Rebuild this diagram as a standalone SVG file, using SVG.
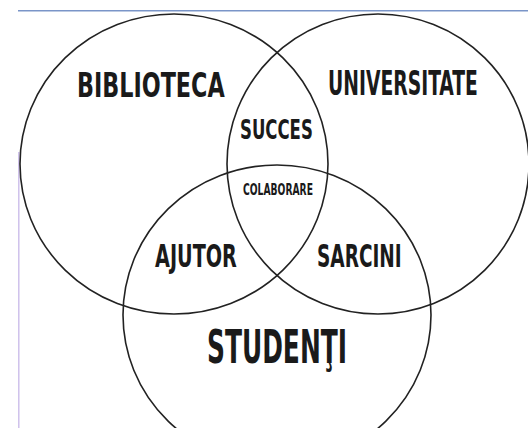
<svg xmlns="http://www.w3.org/2000/svg" width="528" height="428" viewBox="0 0 528 428">
<style>
.c{fill:none;stroke:#222;stroke-width:1.6}
.t{font-family:"DejaVu Sans Condensed","DejaVu Sans",sans-serif;font-stretch:condensed;font-weight:bold;fill:#1a1a1a}
</style>
<rect width="528" height="428" fill="#fff"/>
<line x1="18" y1="10.8" x2="528" y2="10.8" stroke="#7a95c8" stroke-width="1.6"/>
<line x1="18.8" y1="152" x2="18.8" y2="428" stroke="#cbbdea" stroke-width="1.4"/>
<g id="connectors"></g>
<g id="biblioteca">
<ellipse class="c" cx="174" cy="164" rx="154" ry="150"/>
<text class="t" transform="translate(77,97) scale(0.7,1)" font-size="34" textLength="211" lengthAdjust="spacingAndGlyphs">BIBLIOTECA</text>
</g>
<g id="universitate">
<ellipse class="c" cx="378" cy="164" rx="151" ry="150"/>
<text class="t" transform="translate(328,95) scale(0.7,1)" font-size="34" textLength="214" lengthAdjust="spacingAndGlyphs">UNIVERSITATE</text>
</g>
<g id="studenti">
<ellipse class="c" cx="277" cy="315" rx="154" ry="150"/>
<text class="t" transform="translate(207,363) scale(0.7,1)" font-size="46" textLength="200" lengthAdjust="spacingAndGlyphs">STUDENŢI</text>
</g>
<g id="succes">
<text class="t" transform="translate(240,139) scale(0.7,1)" font-size="26" textLength="104" lengthAdjust="spacingAndGlyphs">SUCCES</text>
</g>
<g id="colaborare">
<text class="t" transform="translate(243,195) scale(0.7,1)" font-size="15" textLength="100" lengthAdjust="spacingAndGlyphs">COLABORARE</text>
</g>
<g id="ajutor">
<text class="t" transform="translate(155,267) scale(0.7,1)" font-size="32" textLength="117" lengthAdjust="spacingAndGlyphs">AJUTOR</text>
</g>
<g id="sarcini">
<text class="t" transform="translate(317,267) scale(0.7,1)" font-size="32" textLength="121" lengthAdjust="spacingAndGlyphs">SARCINI</text>
</g>
</svg>
